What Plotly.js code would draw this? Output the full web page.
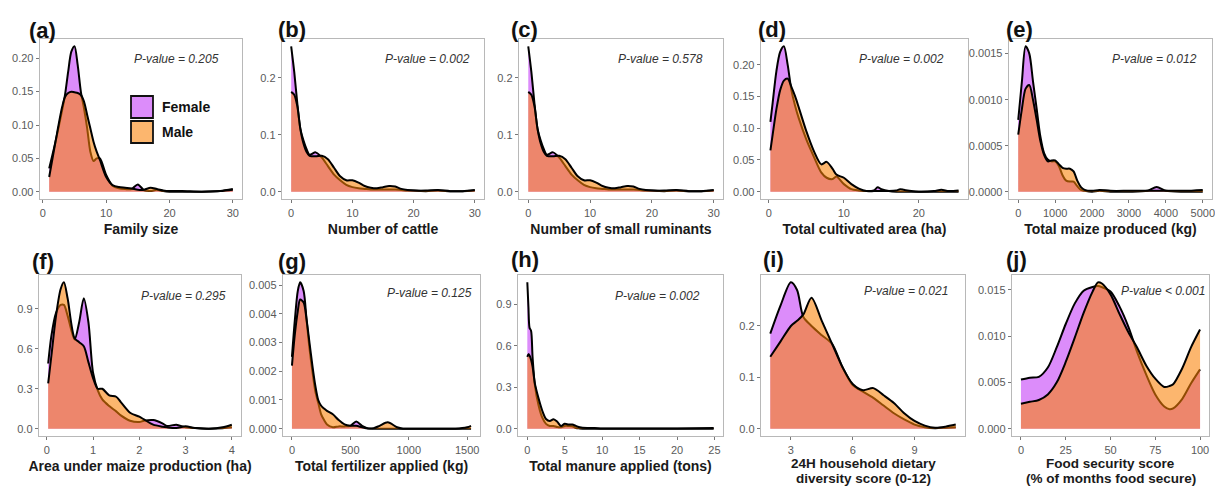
<!DOCTYPE html>
<html>
<head>
<meta charset="utf-8">
<script src="https://cdn.plot.ly/plotly-3.0.1.min.js"></script>
<style>html,body{margin:0;padding:0;background:#fff;}#chart{width:1215px;height:486px;}</style>
</head>
<body>
<div id="chart"></div>
<script>
// ---------- data ----------
const panelLabels = ["(a)","(b)","(c)","(d)","(e)","(f)","(g)","(h)","(i)","(j)"];
const axisTitles = ["Family size","Number of cattle","Number of small ruminants","Total cultivated area (ha)","Total maize produced (kg)",
  "Area under maize production (ha)","Total fertilizer applied (kg)","Total manure applied (tons)",
  "24H household dietary<br>diversity score (0-12)","Food security score<br>(% of months food secure)"];
const pValues = ["P-value = 0.205","P-value = 0.002","P-value = 0.578","P-value = 0.002","P-value = 0.012",
  "P-value = 0.295","P-value = 0.125","P-value = 0.002","P-value = 0.021","P-value < 0.001"];
const seriesNames = ["Female","Male"];

// (a) Family size
const famX = [1,2,3,3.5,4,4.5,5,5.5,6,6.5,7,7.5,8,8.5,9,10,11,12,13,14,15,16,17,18,19,20,22,25,28,30];
const famF = [0.035,0.075,0.12,0.145,0.18,0.21,0.218,0.19,0.15,0.125,0.095,0.06,0.046,0.05,0.05,0.025,0.009,0.005,0.004,0.004,0.011,0.002,0.001,0.003,0.001,0,0,0,0.001,0.004];
const famM = [0.022,0.075,0.125,0.142,0.148,0.15,0.149,0.148,0.145,0.135,0.115,0.095,0.075,0.06,0.048,0.022,0.01,0.007,0.006,0.005,0.003,0.003,0.006,0.004,0.002,0.001,0.001,0,0.001,0.003];
// (b) Number of cattle
const cattleX = [0,0.5,1,1.5,2,2.5,3,4,5,6,7,8,9,10,11,12,13,14,15,16,17,18,19,20,22,24,26,28,30];
const cattleF = [0.255,0.21,0.155,0.11,0.09,0.075,0.065,0.069,0.06,0.045,0.03,0.02,0.012,0.008,0.006,0.005,0.004,0.004,0.004,0.004,0.004,0.003,0.002,0.002,0.001,0.002,0.001,0.001,0.002];
const cattleM = [0.175,0.17,0.15,0.11,0.085,0.07,0.063,0.062,0.063,0.057,0.042,0.027,0.02,0.02,0.016,0.01,0.007,0.006,0.008,0.01,0.009,0.005,0.003,0.002,0.002,0.003,0.001,0.001,0.003];
// (c) Number of small ruminants
const rumX = [0,0.5,1,1.5,2,2.5,3,4,5,6,7,8,9,10,11,12,13,14,15,16,17,18,19,20,22,24,26,28,30];
const rumF = [0.255,0.21,0.155,0.11,0.09,0.075,0.065,0.069,0.06,0.045,0.03,0.02,0.012,0.008,0.006,0.005,0.004,0.004,0.004,0.004,0.004,0.003,0.002,0.002,0.001,0.002,0.001,0.001,0.002];
const rumM = [0.175,0.17,0.15,0.11,0.085,0.07,0.063,0.062,0.063,0.057,0.042,0.027,0.02,0.02,0.016,0.01,0.007,0.006,0.008,0.01,0.009,0.005,0.003,0.002,0.002,0.003,0.001,0.001,0.003];
// (d) Total cultivated area
const cultX = [0.2,0.5,1,1.5,2,2.5,3,3.5,4,5,6,7,7.7,8.5,9,10,11,12,13,14,14.5,15,16,17,17.5,18,19,20,22,23,24,25.3];
const cultF = [0.11,0.14,0.19,0.22,0.229,0.2,0.16,0.135,0.115,0.082,0.055,0.03,0.022,0.02,0.024,0.012,0.004,0.002,0.001,0.002,0.007,0.004,0.001,0,0,0,0,0,0,0,0,0];
const cultM = [0.065,0.09,0.13,0.16,0.175,0.178,0.165,0.15,0.132,0.095,0.064,0.043,0.047,0.036,0.027,0.022,0.012,0.005,0.001,0.001,0.001,0.001,0.001,0.002,0.004,0.003,0.001,0,0.001,0.003,0.001,0.002];
// (e) Total maize produced
const maizeX = [0,100,200,300,400,500,600,700,800,900,1000,1100,1200,1300,1400,1500,1600,1700,1800,2000,2200,2500,3000,3500,3750,4000,4500,5000];
const maizeF = [0.00078,0.0012,0.00158,0.0015,0.0012,0.0009,0.0006,0.00042,0.00035,0.00033,0.00033,0.00028,0.00018,0.00012,0.00011,0.00011,0.00006,0.00002,0.00001,0,0.00001,0,0,0.00001,0.00005,0.00001,0,0];
const maizeM = [0.00062,0.0009,0.00112,0.00116,0.001,0.00078,0.00055,0.0004,0.00033,0.00034,0.00034,0.0003,0.00026,0.00025,0.00025,0.00022,0.00012,0.00005,0.00002,0.00001,0.00002,0.00001,0.00001,0.00001,0.00001,0.00001,0.00001,0.00002];
// (f) Area under maize production
const mAreaX = [0.03,0.1,0.2,0.3,0.37,0.45,0.6,0.7,0.8,0.9,1.0,1.1,1.2,1.35,1.5,1.6,1.8,2.0,2.1,2.3,2.5,2.6,2.8,3.0,3.2,3.5,3.8,4.0];
const mAreaF = [0.49,0.7,0.87,0.93,0.93,0.85,0.67,0.8,0.98,0.8,0.42,0.29,0.22,0.17,0.13,0.1,0.06,0.05,0.06,0.065,0.04,0.02,0.03,0.01,0.005,0,0.003,0.01];
const mAreaM = [0.34,0.55,0.85,1.05,1.1,0.98,0.68,0.65,0.62,0.5,0.38,0.3,0.3,0.25,0.24,0.2,0.12,0.09,0.07,0.03,0.015,0.01,0.005,0.018,0.005,0,0.01,0.03];
// (g) Total fertilizer applied
const fertX = [0,25,50,70,100,125,150,175,200,225,250,275,300,350,400,450,500,550,600,650,700,750,820,900,950,1000,1200,1400,1500,1533];
const fertF = [0.0025,0.0038,0.0048,0.0051,0.0048,0.0038,0.0028,0.002,0.0013,0.0009,0.0005,0.0003,0.00015,0.00005,0.00008,0.00008,0.0001,0.00025,0.0001,0.00001,0,0,0,0,0,0,0,0,0,0];
const fertM = [0.0022,0.0033,0.0041,0.0045,0.0044,0.0038,0.003,0.0022,0.0015,0.001,0.0008,0.0007,0.00062,0.0005,0.0003,0.00015,0.0001,0.0001,0.00005,0.00001,0.00002,0.0001,0.00022,0.00005,0,0,0,0,0.00005,0.0001];
// (h) Total manure applied
const manX = [0,0.15,0.3,0.5,0.7,1,1.5,2,2.5,3,3.5,4,4.5,5,5.5,6,6.5,7,8,9,10,15,20,24.9];
const manF = [1.06,0.88,0.73,0.71,0.52,0.32,0.17,0.08,0.035,0.02,0.02,0.012,0.01,0.02,0.02,0.018,0.005,0.002,0,0,0,0,0,0];
const manM = [0.52,0.54,0.53,0.5,0.45,0.33,0.22,0.13,0.07,0.055,0.068,0.05,0.02,0.035,0.03,0.03,0.02,0.01,0.005,0.005,0.002,0.001,0.001,0.005];
// (i) 24H household dietary diversity score
const hddsX = [2,2.5,3,3.3,3.6,4,4.5,5,5.5,6,6.5,7,7.5,8,8.5,9,9.5,10,10.5,11];
const hddsF = [0.185,0.24,0.285,0.27,0.218,0.2,0.182,0.165,0.12,0.085,0.072,0.06,0.045,0.03,0.018,0.008,0.003,0.001,0.002,0.003];
const hddsM = [0.14,0.17,0.2,0.21,0.222,0.255,0.21,0.165,0.12,0.087,0.075,0.079,0.065,0.05,0.03,0.015,0.006,0.002,0.004,0.008];
// (j) Food security score
const foodX = [0,5,10,15,20,25,30,35,40,43,45,50,55,60,65,70,75,80,83,85,90,95,100];
const foodF = [0.0053,0.0055,0.0056,0.0066,0.0088,0.0113,0.0135,0.0149,0.0153,0.0154,0.0153,0.0148,0.0132,0.011,0.0082,0.0058,0.0037,0.0024,0.0021,0.0022,0.0032,0.0049,0.0064];
const foodM = [0.0027,0.0029,0.0031,0.0037,0.005,0.0072,0.0098,0.0125,0.0148,0.0158,0.0157,0.0145,0.0124,0.0104,0.0087,0.0068,0.0054,0.0045,0.0046,0.0048,0.0065,0.0088,0.0107];

// ---------- build ----------
const panels = [
  {x:famX, f:famF, m:famM, dtx:10, dty:0.05, fy:".2f"},
  {x:cattleX, f:cattleF, m:cattleM, dtx:10, dty:0.1, fy:".1f"},
  {x:rumX, f:rumF, m:rumM, dtx:10, dty:0.1, fy:".1f"},
  {x:cultX, f:cultF, m:cultM, dtx:10, dty:0.05, fy:".2f"},
  {x:maizeX, f:maizeF, m:maizeM, dtx:1000, dty:0.0005, fy:".4f"},
  {x:mAreaX, f:mAreaF, m:mAreaM, dtx:1, dty:0.3, fy:".1f"},
  {x:fertX, f:fertF, m:fertM, dtx:500, dty:0.001, fy:".3f"},
  {x:manX, f:manF, m:manM, dtx:5, dty:0.3, fy:".1f"},
  {x:hddsX, f:hddsF, m:hddsM, dtx:3, dty:0.1, fy:".1f", x0:3},
  {x:foodX, f:foodF, m:foodM, dtx:25, dty:0.005, fy:".3f"}
];
// pixel boxes [left, right, top, bottom]
const boxes = [
  [40,242,39,199],[282,484,39,199],[519,723,39,199],[761,968,39,199],[1009,1212,39,199],
  [39,241,275,436],[283,480,275,436],[518,723,275,436],[761,965,275,436],[1012,1209,275,436]
];
const pRight = [221,472,705,946,1199,228,474,702,950,1207];
const pY = [59,59,59,59,59,296,293,296,291,291];
const labX = [27,276,509,756,1004,30,276,509,761,1004];
const labY = [30,29,29,29,29,261,261,259,259,259];
const W = 1215, H = 486;
const FONT = "Liberation Sans, Arial, sans-serif";
const femFill = "rgba(195,57,247,0.58)";
const maleFill = "rgba(250,129,5,0.58)";
const titleFont = {size: 14, color: "#1a1a1a", family: FONT, weight: "bold"};

const traces = [];
const layout = {
  width: W, height: H, margin: {l:0, r:0, t:0, b:0},
  paper_bgcolor: "#fff", plot_bgcolor: "#fff",
  showlegend: false, font: {family: FONT},
  annotations: [], shapes: []
};
panels.forEach((p, i) => {
  const n = i === 0 ? "" : String(i + 1);
  const xa = "x" + n, ya = "y" + n;
  [[p.f, femFill, seriesNames[0]], [p.m, maleFill, seriesNames[1]]].forEach(([ys, col, nm]) => {
    traces.push({
      type: "scatter", mode: "lines", x: p.x, y: ys, name: nm,
      xaxis: xa, yaxis: ya, fill: "tozeroy", fillcolor: col,
      line: {color: "#000", width: 2, shape: "spline", smoothing: 0.8},
      legendgroup: nm, showlegend: i === 0, hoverinfo: "x+y+name"
    });
  });
  const xmin = Math.min(...p.x), xmax = Math.max(...p.x);
  const ymax = Math.max(...p.f, ...p.m);
  const sx = xmax - xmin;
  const b = boxes[i];
  const lines = axisTitles[i].split("<br>");
  const multi = lines.length > 1;
  const axCommon = {
    showgrid: false, zeroline: false, showline: true, mirror: true,
    linecolor: "#b8b8b8", linewidth: 1.3, ticks: "outside", ticklen: 3,
    tickcolor: "#777", tickwidth: 1, ticklabeloverflow: "allow",
    tickfont: {size: 11, color: "#5a5a5a", family: FONT}
  };
  layout["xaxis" + n] = Object.assign({}, axCommon, {
    anchor: ya, domain: [b[0] / W, b[1] / W],
    range: [xmin - 0.05 * sx, xmax + 0.05 * sx],
    dtick: p.dtx, tick0: p.x0 || 0,
    title: multi ? {text: ""} : {text: axisTitles[i], font: titleFont, standoff: 6}
  });
  if (multi) {
    const ly = [463, 478];
    lines.forEach((t, k) => {
      layout.annotations.push({
        xref: "paper", yref: "paper", x: (b[0] + b[1]) / 2 / W, y: 1 - ly[k] / H,
        xanchor: "center", yanchor: "middle", showarrow: false, borderpad: 0,
        text: t, font: Object.assign({}, titleFont, {size: 13.5})
      });
    });
  }
  layout["yaxis" + n] = Object.assign({}, axCommon, {
    anchor: xa, domain: [1 - b[3] / H, 1 - b[2] / H],
    range: [-0.05 * ymax, 1.05 * ymax],
    dtick: p.dty, tick0: 0, tickformat: p.fy
  });
  layout.annotations.push({
    xref: "paper", yref: "paper", x: pRight[i] / W, y: 1 - pY[i] / H,
    xanchor: "right", yanchor: "middle", showarrow: false,
    text: "<i>" + pValues[i] + "</i>", font: {size: 12, color: "#333", family: FONT}
  });
  layout.annotations.push({
    xref: "paper", yref: "paper", x: labX[i] / W, y: 1 - labY[i] / H,
    xanchor: "left", yanchor: "middle", showarrow: false,
    text: "<b>" + panelLabels[i] + "</b>", font: {size: 22, color: "#111", family: FONT}
  });
});
// legend drawn inside panel (a)
const legItems = [[96, 118, "rgb(220,140,250)", seriesNames[0]], [121, 143, "rgb(252,182,110)", seriesNames[1]]];
legItems.forEach(([t, bt, col, nm]) => {
  layout.shapes.push({type: "rect", xref: "paper", yref: "paper",
    x0: 131 / W, x1: 153 / W, y0: 1 - bt / H, y1: 1 - t / H,
    fillcolor: col, line: {color: "#111", width: 1.8}});
  layout.annotations.push({xref: "paper", yref: "paper", x: 160 / W, y: 1 - (t + bt) / 2 / H,
    xanchor: "left", yanchor: "middle", showarrow: false,
    text: "<b>" + nm + "</b>", font: {size: 14, color: "#111", family: FONT}});
});
Plotly.newPlot("chart", traces, layout, {staticPlot: true, displayModeBar: false});
</script>
</body>
</html>
